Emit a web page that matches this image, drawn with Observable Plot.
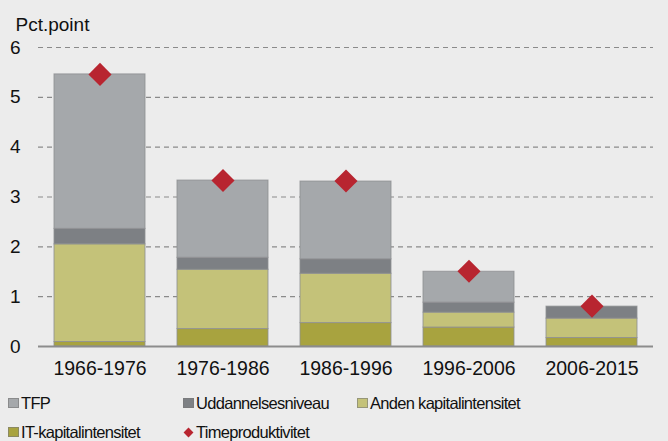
<!DOCTYPE html>
<html>
<head>
<meta charset="utf-8">
<script src="https://cdn.jsdelivr.net/npm/d3@7"></script>
<script src="https://cdn.jsdelivr.net/npm/@observablehq/plot@0.6"></script>
<style>
  html, body { margin: 0; padding: 0; background: #ececec; }
  body { width: 668px; height: 441px; overflow: hidden; font-family: "Liberation Sans", Arial, sans-serif; color: #111; }
  #legend { position: relative; width: 668px; height: 61px; font-size: 16.5px; letter-spacing: -0.7px; }
  .item { position: absolute; display: flex; align-items: center; white-space: nowrap; }
  .sw { width: 11px; height: 10px; margin-right: 2px; box-sizing: border-box; }
  .dia { width: 7px; height: 7px; background: #b82530; transform: rotate(45deg); margin: 0 4px 0 2px; }
</style>
</head>
<body>
<div id="chart"></div>
<div id="legend"></div>
<script>
const periods = ["1966-1976", "1976-1986", "1986-1996", "1996-2006", "2006-2015"];
const seriesNames = ["IT-kapitalintensitet", "Anden kapitalintensitet", "Uddannelsesniveau", "TFP"];
const itKap = [0.09, 0.35, 0.47, 0.38, 0.17];
const andenKap = [1.96, 1.19, 0.99, 0.30, 0.39];
const uddannelse = [0.31, 0.24, 0.29, 0.20, 0.24];
const tfp = [3.10, 1.55, 1.56, 0.62, 0.00];
const timeprod = [5.46, 3.33, 3.32, 1.51, 0.81];
const yTicks = [0, 1, 2, 3, 4, 5, 6];
const colors = ["#a8a33f", "#c4c279", "#7d8084", "#a5a8ab"];

const seriesValues = [itKap, andenKap, uddannelse, tfp];
const stacked = [];
seriesNames.forEach((s, i) => periods.forEach((p, j) => stacked.push({period: p, series: s, value: seriesValues[i][j]})));
const points = periods.map((p, j) => ({period: p, value: timeprod[j]}));

const chart = Plot.plot({
  width: 668,
  height: 380,
  marginLeft: 38,
  marginRight: 15,
  marginTop: 47,
  marginBottom: 34,
  style: {background: "#ececec", fontFamily: "'Liberation Sans', Arial, sans-serif", fontSize: "19px", color: "#111"},
  x: {domain: periods, paddingInner: 0.26, paddingOuter: 0.13, label: null},
  y: {domain: [0, 6], label: null},
  color: {domain: seriesNames, range: colors},
  marks: [
    Plot.gridY(yTicks.slice(1), {stroke: "#8a8a8a", strokeOpacity: 1, strokeWidth: 1.2, strokeDasharray: "5,4"}),
    Plot.barY(stacked, {x: "period", y: "value", fill: "series", order: seriesNames, stroke: "#8d8f91", strokeWidth: 1, strokeOpacity: 0.8}),
    Plot.ruleY([0], {stroke: "#8c8c8c", strokeWidth: 2}),
    Plot.dot(points, {x: "period", y: "value", symbol: "diamond2", r: 10.4, fill: "#b82530", stroke: "none"}),
    Plot.axisY({ticks: yTicks, tickFormat: d3.format("d"), tickSize: 0, tickPadding: 18, label: null, fontSize: 19}),
    Plot.axisX({tickSize: 0, tickPadding: 15, label: null, fontSize: 19.5}),
    Plot.text(["Pct.point"], {frameAnchor: "top-left", dx: -23, dy: -30, textAnchor: "start", fontSize: 19, fill: "#111"})
  ]
});
document.getElementById("chart").appendChild(chart);

const legendItems = [
  {label: "TFP", color: "#a5a8ab", x: 8, y: 23, type: "sq"},
  {label: "Uddannelsesniveau", color: "#7d8084", x: 183, y: 23, type: "sq"},
  {label: "Anden kapitalintensitet", color: "#c4c279", x: 357, y: 23, type: "sq"},
  {label: "IT-kapitalintensitet", color: "#a8a33f", x: 8, y: 52, type: "sq"},
  {label: "Timeproduktivitet", color: "#b82530", x: 183, y: 52, type: "dia"}
];
const legend = document.getElementById("legend");
legendItems.forEach(d => {
  const it = document.createElement("div");
  it.className = "item";
  it.style.left = d.x + "px";
  it.style.top = (d.y - 10) + "px";
  it.style.height = "20px";
  const sw = document.createElement("span");
  if (d.type === "sq") {
    sw.className = "sw";
    sw.style.background = d.color;
    sw.style.border = "1px solid rgba(120,120,120,0.6)";
  } else {
    sw.className = "dia";
  }
  it.appendChild(sw);
  const t = document.createElement("span");
  t.textContent = d.label;
  it.appendChild(t);
  legend.appendChild(it);
});
</script>
</body>
</html>
